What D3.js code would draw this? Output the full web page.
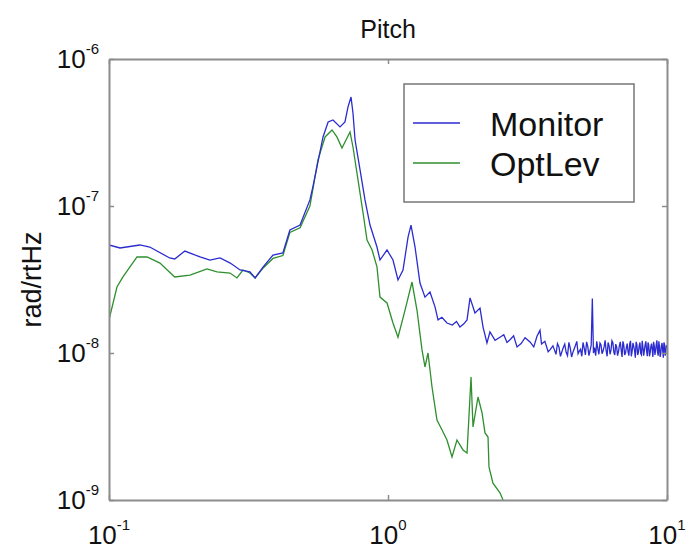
<!DOCTYPE html>
<html>
<head>
<meta charset="utf-8">
<script src="https://cdn.jsdelivr.net/npm/d3@7"></script>
<style>
  body { margin: 0; background: #fff; }
  svg { font-family: "Liberation Sans", Arial, sans-serif; }
</style>
</head>
<body>
<svg></svg>
<script>
// Monitor spectrum (rad/rtHz) - smooth part
var monitorFreq = [0.1, 0.1095, 0.129, 0.14, 0.165, 0.172, 0.187, 0.212, 0.23, 0.25,
  0.272, 0.295, 0.32, 0.334, 0.357, 0.387, 0.42, 0.445, 0.484, 0.525,
  0.538, 0.585, 0.61, 0.635, 0.673, 0.701, 0.719, 0.737, 0.749, 0.762,
  0.794, 0.827, 0.862, 0.913, 0.936, 0.992, 1.042, 1.086, 1.132, 1.18,
  1.209, 1.25, 1.302, 1.357, 1.414, 1.474, 1.511, 1.56, 1.627, 1.70,
  1.76, 1.811, 1.87, 1.92, 1.968, 2.05, 2.137, 2.191, 2.263, 2.32,
  2.42, 2.52, 2.6, 2.67, 2.737, 2.82, 2.9, 3.0, 3.1, 3.228,
  3.33, 3.42, 3.506, 3.55, 3.65, 3.75, 3.807];
var monitorAmp = [5.43e-8, 5.18e-8, 5.43e-8, 5.26e-8, 4.43e-8, 4.36e-8, 4.94e-8, 4.50e-8, 4.29e-8, 4.43e-8,
  4.09e-8, 3.67e-8, 3.56e-8, 3.24e-8, 3.85e-8, 4.64e-8, 4.79e-8, 6.87e-8, 7.42e-8, 1.10e-7,
  1.35e-7, 2.95e-7, 3.73e-7, 3.85e-7, 3.45e-7, 3.73e-7, 4.72e-7, 5.51e-7, 4.29e-7, 2.81e-7,
  1.76e-7, 1.10e-7, 7.42e-8, 5.26e-8, 4.29e-8, 5.02e-8, 4.29e-8, 3.14e-8, 3.67e-8, 6.15e-8,
  7.42e-8, 5.26e-8, 2.99e-8, 2.40e-8, 2.60e-8, 2.06e-8, 1.68e-8, 1.75e-8, 1.60e-8, 1.55e-8,
  1.64e-8, 1.50e-8, 1.58e-8, 1.68e-8, 2.37e-8, 1.87e-8, 2.02e-8, 1.50e-8, 1.17e-8, 1.39e-8,
  1.22e-8, 1.28e-8, 1.33e-8, 1.18e-8, 1.23e-8, 1.31e-8, 1.10e-8, 1.16e-8, 1.27e-8, 1.19e-8,
  1.10e-8, 1.30e-8, 1.43e-8, 1.15e-8, 1.20e-8, 1.02e-8, 1.05e-8];
// Monitor noise floor, 3.9 - 10 Hz (0.1 Hz bins)
var floorFreq = [3.9, 4.0, 4.1, 4.2, 4.3, 4.4, 4.5, 4.6, 4.7, 4.8, 4.9, 5.0, 5.1, 5.2, 5.3, 5.4,
  5.5, 5.6, 5.7, 5.8, 5.9, 6.0, 6.1, 6.2, 6.3, 6.4, 6.5, 6.6, 6.7, 6.8, 6.9, 7.0,
  7.1, 7.2, 7.3, 7.4, 7.5, 7.6, 7.7, 7.8, 7.9, 8.0, 8.1, 8.2, 8.3, 8.4, 8.5, 8.6,
  8.7, 8.8, 8.9, 9.0, 9.1, 9.2, 9.3, 9.4, 9.5, 9.6, 9.7, 9.8, 9.9, 10.0];
var floorAmp = [1.12e-8, 0.98e-8, 1.10e-8, 1.02e-8, 1.15e-8, 0.96e-8, 1.08e-8, 1.01e-8, 1.13e-8, 0.99e-8,
  1.06e-8, 1.18e-8, 0.97e-8, 1.11e-8, 1.04e-8, 2.35e-8, 1.09e-8, 1.20e-8, 0.98e-8, 1.14e-8,
  1.03e-8, 1.22e-8, 0.95e-8, 1.12e-8, 1.05e-8, 1.17e-8, 0.97e-8, 1.10e-8, 1.02e-8, 1.19e-8,
  0.94e-8, 1.13e-8, 1.00e-8, 1.16e-8, 0.96e-8, 1.21e-8, 1.03e-8, 1.11e-8, 0.93e-8, 1.14e-8,
  1.01e-8, 1.18e-8, 0.97e-8, 1.09e-8, 1.05e-8, 1.20e-8, 0.95e-8, 1.13e-8, 1.00e-8, 1.16e-8,
  0.94e-8, 1.12e-8, 1.04e-8, 1.22e-8, 0.96e-8, 1.10e-8, 0.99e-8, 1.17e-8, 0.93e-8, 1.14e-8,
  1.02e-8, 1.08e-8];
// in-between bins of the noise floor
var floorMidFreq = [3.95, 4.05, 4.15, 4.25, 4.35, 4.45, 4.55, 4.65, 4.75, 4.85, 4.95, 5.05, 5.15, 5.25, 5.35, 5.45,
  5.55, 5.65, 5.75, 5.85, 5.95, 6.05, 6.15, 6.25, 6.35, 6.45, 6.55, 6.65, 6.75, 6.85, 6.95, 7.05,
  7.15, 7.25, 7.35, 7.45, 7.55, 7.65, 7.75, 7.85, 7.95, 8.05, 8.15, 8.25, 8.35, 8.45, 8.55, 8.65,
  8.75, 8.85, 8.95, 9.05, 9.15, 9.25, 9.35, 9.45, 9.55, 9.65, 9.75, 9.85, 9.95];
var floorMidAmp = [1.05e-8, 1.16e-8, 0.95e-8, 1.09e-8, 1.01e-8, 1.18e-8, 0.94e-8, 1.07e-8, 1.20e-8, 1.03e-8,
  0.95e-8, 1.08e-8, 1.19e-8, 0.96e-8, 1.13e-8, 1.00e-8, 0.96e-8, 1.07e-8, 1.17e-8, 0.99e-8,
  1.10e-8, 1.04e-8, 1.18e-8, 0.98e-8, 1.21e-8, 1.01e-8, 1.15e-8, 0.96e-8, 1.12e-8, 1.05e-8,
  1.20e-8, 0.97e-8, 1.09e-8, 1.02e-8, 1.15e-8, 0.95e-8, 1.17e-8, 1.04e-8, 1.19e-8, 0.97e-8,
  1.12e-8, 0.99e-8, 1.21e-8, 0.96e-8, 1.14e-8, 1.03e-8, 1.18e-8, 0.95e-8, 1.10e-8, 1.06e-8,
  1.19e-8, 0.97e-8, 1.14e-8, 1.01e-8, 1.20e-8, 0.94e-8, 1.12e-8, 1.05e-8, 1.18e-8, 0.96e-8,
  1.13e-8];
// OptLev spectrum
var optFreq = [0.1, 0.1068, 0.1122, 0.126, 0.1369, 0.1523, 0.172, 0.1951, 0.2245, 0.2438,
  0.2715, 0.2875, 0.3021, 0.32, 0.334, 0.357, 0.387, 0.42, 0.445, 0.484,
  0.525, 0.561, 0.595, 0.63, 0.656, 0.684, 0.713, 0.731, 0.749, 0.781,
  0.814, 0.841, 0.877, 0.913, 0.936, 0.992, 1.042, 1.086, 1.151, 1.219,
  1.27, 1.324, 1.357, 1.391, 1.438, 1.498, 1.562, 1.627, 1.696, 1.767,
  1.857, 1.92, 1.984, 2.017, 2.102, 2.173, 2.227, 2.283, 2.301, 2.378,
  2.52, 2.584];
var optAmp = [1.68e-8, 2.81e-8, 3.29e-8, 4.50e-8, 4.50e-8, 4.09e-8, 3.29e-8, 3.39e-8, 3.73e-8, 3.56e-8,
  3.50e-8, 3.24e-8, 3.67e-8, 3.50e-8, 3.24e-8, 3.79e-8, 4.40e-8, 4.60e-8, 6.60e-8, 7.10e-8,
  1.00e-7, 2.06e-7, 2.95e-7, 3.29e-7, 2.95e-7, 2.48e-7, 2.90e-7, 3.19e-7, 2.52e-7, 1.50e-7,
  8.96e-8, 5.87e-8, 5.02e-8, 3.85e-8, 2.40e-8, 2.19e-8, 1.60e-8, 1.28e-8, 1.96e-8, 3.04e-8,
  1.96e-8, 1.05e-8, 8.03e-9, 1.00e-8, 5.87e-9, 3.50e-9, 2.99e-9, 2.56e-9, 1.96e-9, 2.56e-9,
  2.19e-9, 2.09e-9, 6.87e-9, 3.14e-9, 5.02e-9, 3.91e-9, 2.86e-9, 2.68e-9, 1.68e-9, 1.30e-9,
  1.12e-9, 1.0e-9];

var xTicks = [0.1, 1, 10];
var xTickExp = ["-1", "0", "1"];
var yTicks = [1e-6, 1e-7, 1e-8, 1e-9];
var yTickExp = ["-6", "-7", "-8", "-9"];
var seriesNames = ["Monitor", "OptLev"];
var seriesColors = ["#2b2bd0", "#2e8f2e"];

var svgWidth = 690,
  svgHeight = 554;
var margin = { top: 59, right: 23, bottom: 54, left: 109 };
var width = svgWidth - margin.left - margin.right,
  height = svgHeight - margin.top - margin.bottom;

var svg = d3.select("svg").attr("width", svgWidth).attr("height", svgHeight);
var g = svg.append("g").attr("transform", "translate(" + margin.left + "," + margin.top + ")");

var x = d3.scaleLog().domain([0.1, 10]).range([0, width]);
var y = d3.scaleLog().domain([1e-9, 1e-6]).range([height, 0]);

g.append("clipPath").attr("id", "plotclip")
  .append("rect").attr("width", width).attr("height", height);

var line = d3.line()
  .x(function (d) { return x(d[0]); })
  .y(function (d) { return y(d[1]); });

var monitorData = d3.sort(
  d3.zip(monitorFreq.concat(floorFreq, floorMidFreq), monitorAmp.concat(floorAmp, floorMidAmp)),
  function (d) { return d[0]; });
var optData = d3.zip(optFreq, optAmp);

g.append("path").datum(optData)
  .attr("clip-path", "url(#plotclip)")
  .attr("d", line).attr("fill", "none")
  .attr("stroke", seriesColors[1]).attr("stroke-width", 1.3);

g.append("path").datum(monitorData)
  .attr("clip-path", "url(#plotclip)")
  .attr("d", line).attr("fill", "none")
  .attr("stroke", seriesColors[0]).attr("stroke-width", 1.3);

// box with inward ticks on all four sides
var axes = [
  [d3.axisBottom(x).tickValues(xTicks), "translate(0," + height + ")"],
  [d3.axisTop(x).tickValues(xTicks), "translate(0,0)"],
  [d3.axisLeft(y).tickValues(yTicks), "translate(0,0)"],
  [d3.axisRight(y).tickValues(yTicks), "translate(" + width + ",0)"]
];
axes.forEach(function (a) {
  var ax = g.append("g").attr("transform", a[1])
    .call(a[0].tickSizeInner(-5).tickSizeOuter(0).tickFormat(""));
  ax.select(".domain").attr("stroke", "#8c8c8c").attr("stroke-width", 2);
  ax.selectAll(".tick line").attr("stroke", "#8c8c8c").attr("stroke-width", 1.5);
});

// tick labels with exponents
var xl = g.selectAll(".xlab").data(xTicks).enter().append("text")
  .attr("class", "xlab")
  .attr("x", function (d) { return x(d); })
  .attr("y", height + 44)
  .attr("text-anchor", "middle")
  .attr("fill", "#111");
xl.append("tspan").attr("font-size", 26).text("10");
xl.append("tspan").attr("font-size", 15).attr("dy", -14)
  .text(function (d, i) { return xTickExp[i]; });

var yl = g.selectAll(".ylab").data(yTicks).enter().append("text")
  .attr("class", "ylab")
  .attr("x", -10)
  .attr("y", function (d) { return y(d) + 9; })
  .attr("text-anchor", "end")
  .attr("fill", "#111");
yl.append("tspan").attr("font-size", 26).text("10");
yl.append("tspan").attr("font-size", 15).attr("dy", -14)
  .text(function (d, i) { return yTickExp[i]; });

// title and axis label
g.append("text").attr("x", width / 2).attr("y", -21)
  .attr("text-anchor", "middle").attr("font-size", 25).attr("fill", "#111")
  .text("Pitch");

g.append("text")
  .attr("transform", "translate(-68," + height / 2 + ") rotate(-90)")
  .attr("text-anchor", "middle").attr("font-size", 27).attr("fill", "#111")
  .text("rad/rtHz");

// legend
var legend = g.append("g").attr("transform", "translate(295,25)");
legend.append("rect").attr("width", 230).attr("height", 118)
  .attr("fill", "#fff").attr("stroke", "#777").attr("stroke-width", 1.5);
var items = legend.selectAll(".item").data(seriesNames).enter().append("g")
  .attr("transform", function (d, i) { return "translate(0," + (39 + i * 40) + ")"; });
items.append("line").attr("x1", 9).attr("x2", 56)
  .attr("stroke", function (d, i) { return seriesColors[i]; })
  .attr("stroke-width", 1.3);
items.append("text").attr("x", 86).attr("y", 13)
  .attr("font-size", 34).attr("fill", "#111")
  .text(function (d) { return d; });
</script>
</body>
</html>
